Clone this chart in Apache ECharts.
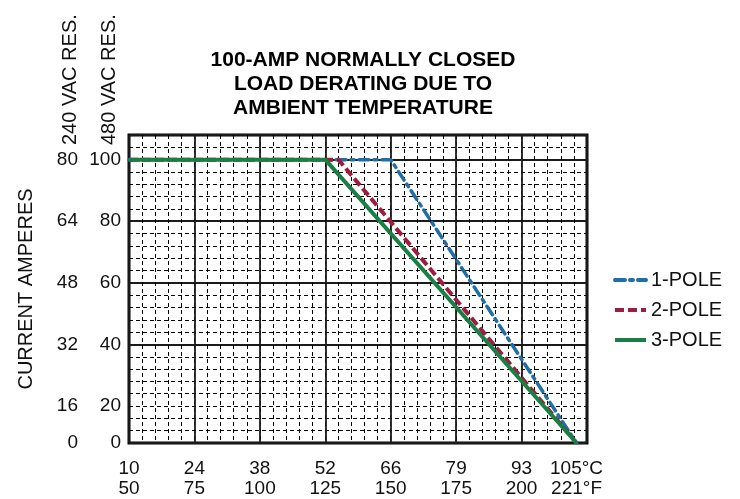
<!DOCTYPE html>
<html><head><meta charset="utf-8">
<script src="https://cdn.jsdelivr.net/npm/echarts@6/dist/echarts.min.js"></script>
<style>html,body{margin:0;padding:0;background:#fff}#c{width:740px;height:499px}</style>
</head><body><div id="c"></div>
<script>
// x: ambient temperature (°F); y: load current (amps, 480 VAC scale)
const seriesNames = ['1-POLE', '2-POLE', '3-POLE'];
const pole1 = [[50, 100], [150, 100], [221, 0]];
const pole2 = [[50, 100], [130, 100], [221, 0]];
const pole3 = [[50, 100], [125, 100], [221, 0]];
const xTicksF = [50, 75, 100, 125, 150, 175, 200, 221];
const xTicksC = [10, 24, 38, 52, 66, 79, 93, 105];
const yTicks480 = [0, 20, 40, 60, 80, 100];
const yTicks240 = [0, 16, 32, 48, 64, 80];

const FONT = '"Liberation Sans", Arial, Helvetica, sans-serif';
const chart = echarts.init(document.getElementById('c'));
const yBreaks = [{ start: 0, end: 8, gap: 0 }];
const minorLine = { show: true, lineStyle: { color: '#000', width: 1, type: [4, 3] } };
const majorLine = { show: true, lineStyle: { color: '#1a1a1a', width: 1.8, type: 'solid' } };

chart.setOption({
  animation: false,
  backgroundColor: '#fff',
  title: {
    text: '100-AMP NORMALLY CLOSED\nLOAD DERATING DUE TO\nAMBIENT TEMPERATURE',
    left: 358, top: 43, textAlign: 'center',
    textStyle: { fontFamily: FONT, fontSize: 21, fontWeight: 'bold', lineHeight: 24, color: '#000' }
  },
  legend: {
    data: seriesNames, orient: 'vertical', left: 608, top: 265,
    itemWidth: 31, itemHeight: 14, itemGap: 10,
    itemStyle: { opacity: 0 },
    lineStyle: { width: 4 },
    textStyle: { fontFamily: FONT, fontSize: 20, color: '#111' }
  },
  grid: { left: 129, right: 153, top: 135, bottom: 52, show: true, borderColor: '#000', borderWidth: 3 },
  xAxis: [
    {
      type: 'value', min: 50, max: 225, interval: 5, position: 'bottom',
      axisLine: { show: false }, axisTick: { show: false },
      splitLine: minorLine,
      axisLabel: {
        customValues: xTicksF, margin: 16, fontFamily: FONT, fontSize: 19, color: '#111', lineHeight: 20,
        formatter: function (v) {
          const i = xTicksF.indexOf(v);
          const last = i === xTicksF.length - 1;
          return xTicksC[i] + (last ? '°C' : '') + '\n' + v + (last ? '°F' : '');
        }
      }
    },
    {
      type: 'value', min: 50, max: 225, interval: 25, position: 'top',
      axisLine: { show: false }, axisTick: { show: false }, axisLabel: { show: false },
      splitLine: majorLine
    }
  ],
  yAxis: [
    {
      type: 'value', min: 0, max: 108, interval: 4, breaks: yBreaks, breakArea: { show: false },
      axisLine: { show: false }, axisTick: { show: false },
      splitLine: minorLine,
      axisLabel: { customValues: yTicks480, margin: 8, fontFamily: FONT, fontSize: 19, color: '#111' }
    },
    {
      type: 'value', min: 0, max: 108, interval: 4, breaks: yBreaks, breakArea: { show: false },
      position: 'left', offset: 43,
      axisLine: { show: false }, axisTick: { show: false }, splitLine: { show: false },
      axisLabel: {
        customValues: yTicks480, margin: 8, fontFamily: FONT, fontSize: 19, color: '#111',
        formatter: function (v) { return String(yTicks240[yTicks480.indexOf(v)]); }
      },
      name: 'CURRENT AMPERES', nameLocation: 'middle', nameGap: 50, nameRotate: 90,
      nameTextStyle: { fontFamily: FONT, fontSize: 20, color: '#111' }
    },
    {
      type: 'value', min: 0, max: 108, interval: 20, breaks: yBreaks, breakArea: { show: false },
      position: 'right',
      axisLine: { show: false }, axisTick: { show: false }, axisLabel: { show: false },
      splitLine: majorLine
    }
  ],
  graphic: [
    { type: 'text', x: 70, y: 145, rotation: Math.PI / 2,
      style: { text: '240 VAC RES.', fontFamily: FONT, fontSize: 20, fill: '#111', align: 'left', verticalAlign: 'middle' } },
    { type: 'text', x: 109, y: 145, rotation: Math.PI / 2,
      style: { text: '480 VAC RES.', fontFamily: FONT, fontSize: 20, fill: '#111', align: 'left', verticalAlign: 'middle' } }
  ],
  series: [
    { name: seriesNames[0], type: 'line', data: pole1, symbol: 'none', z: 3,
      lineStyle: { color: '#1f6ea4', width: 3.5, type: [10, 5, 3, 5], cap: 'round' }, itemStyle: { color: '#1f6ea4' } },
    { name: seriesNames[1], type: 'line', data: pole2, symbol: 'none', z: 4,
      lineStyle: { color: '#9c1d3d', width: 4, type: [9, 4], cap: 'butt' }, itemStyle: { color: '#9c1d3d' } },
    { name: seriesNames[2], type: 'line', data: pole3, symbol: 'none', z: 5,
      lineStyle: { color: '#1a7f45', width: 4, type: 'solid' }, itemStyle: { color: '#1a7f45' } }
  ]
});
</script>
</body></html>
